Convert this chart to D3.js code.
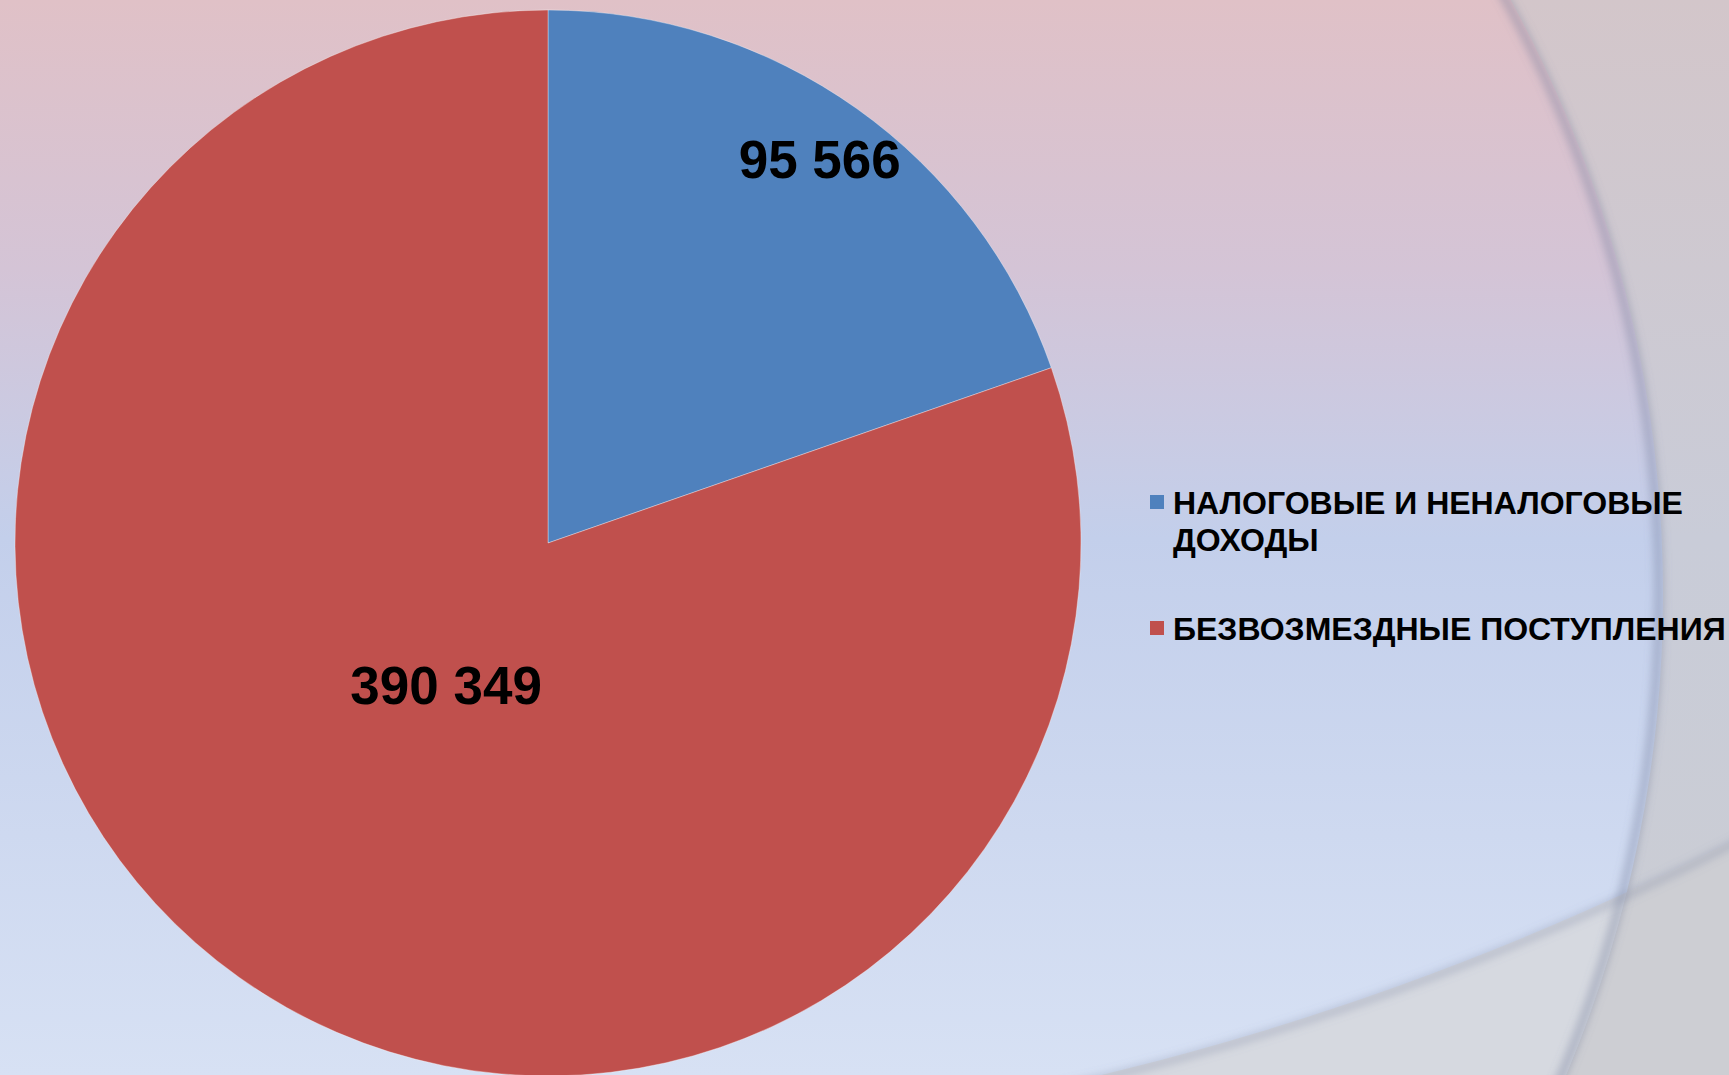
<!DOCTYPE html>
<html>
<head>
<meta charset="utf-8">
<script src="https://cdn.jsdelivr.net/npm/d3@7"></script>
<style>
  html, body { margin: 0; padding: 0; overflow: hidden; background: #d6d9e0; }
  svg { display: block; }
</style>
</head>
<body>
<svg id="chart" width="1729" height="1075"></svg>
<script>
// ---- data ----
const categories = ["НАЛОГОВЫЕ И НЕНАЛОГОВЫЕ ДОХОДЫ", "БЕЗВОЗМЕЗДНЫЕ ПОСТУПЛЕНИЯ"];
const legendLines = [["НАЛОГОВЫЕ И НЕНАЛОГОВЫЕ", "ДОХОДЫ"], ["БЕЗВОЗМЕЗДНЫЕ ПОСТУПЛЕНИЯ"]];
const values = [95566, 390349];
const colors = ["#4f81bd", "#c0504d"];
const labelRadiusFrac = [0.88, 0.33];

// ---- layout ----
const W = 1729, H = 1075;
const cx = 548, cy = 543, R = 533;
const svg = d3.select("#chart");
const defs = svg.append("defs");

// background gradients
const gIn = defs.append("linearGradient").attr("id", "gIn").attr("x1", 0).attr("y1", 0).attr("x2", 0).attr("y2", 1);
gIn.append("stop").attr("offset", "0").attr("stop-color", "#e0c1c7");
gIn.append("stop").attr("offset", "0.25").attr("stop-color", "#d4c4d6");
gIn.append("stop").attr("offset", "0.5").attr("stop-color", "#c3cfeb");
gIn.append("stop").attr("offset", "1").attr("stop-color", "#d7e1f4");
const gOut = defs.append("linearGradient").attr("id", "gOut").attr("x1", 0).attr("y1", 0).attr("x2", 0).attr("y2", 1);
gOut.append("stop").attr("offset", "0").attr("stop-color", "#d3c6ca");
gOut.append("stop").attr("offset", "0.5").attr("stop-color", "#c9ccd8");
gOut.append("stop").attr("offset", "1").attr("stop-color", "#cbcdd3");

const blur = defs.append("filter").attr("id", "blur").attr("x", "-10%").attr("y", "-10%").attr("width", "120%").attr("height", "120%");
blur.append("feGaussianBlur").attr("stdDeviation", 4);

// decorative circles
const c1 = {x: 425, y: 595, r: 1238};
const c2 = {x: 430, y: -1703, r: 2858};

defs.append("clipPath").attr("id", "inC1").append("circle").attr("cx", c1.x).attr("cy", c1.y).attr("r", c1.r);
defs.append("clipPath").attr("id", "outC1").append("path")
  .attr("clip-rule", "evenodd")
  .attr("d", `M0,0H${W}V${H}H0Z M${c1.x - c1.r},${c1.y} a${c1.r},${c1.r} 0 1,0 ${2*c1.r},0 a${c1.r},${c1.r} 0 1,0 ${-2*c1.r},0Z`);
const outC2 = `M-10,-10H${W+10}V${H+10}H-10Z M${c2.x - c2.r},${c2.y} a${c2.r},${c2.r} 0 1,0 ${2*c2.r},0 a${c2.r},${c2.r} 0 1,0 ${-2*c2.r},0Z`;

const bg = svg.append("g");
bg.append("rect").attr("width", W).attr("height", H).attr("fill", "url(#gIn)");
bg.append("rect").attr("width", W).attr("height", H).attr("fill", "url(#gOut)").attr("clip-path", "url(#outC1)");
// region below second curve
bg.append("path").attr("d", outC2).attr("fill-rule", "evenodd").attr("fill", "#d6d9e0").attr("clip-path", "url(#inC1)");
bg.append("path").attr("d", outC2).attr("fill-rule", "evenodd").attr("fill", "#cdced3").attr("clip-path", "url(#outC1)");
// soft edge shadows
bg.append("circle").attr("cx", c2.x).attr("cy", c2.y).attr("r", c2.r + 3)
  .attr("fill", "none").attr("stroke", "rgba(120,130,160,0.35)").attr("stroke-width", 7).attr("filter", "url(#blur)");
bg.append("circle").attr("cx", c1.x).attr("cy", c1.y).attr("r", c1.r - 4)
  .attr("fill", "none").attr("stroke", "rgba(110,120,150,0.4)").attr("stroke-width", 9).attr("filter", "url(#blur)");

// ---- pie ----
const pie = d3.pie().sort(null).value(d => d)(values);
const arc = d3.arc().innerRadius(0).outerRadius(R);
const g = svg.append("g").attr("transform", `translate(${cx},${cy})`);
g.selectAll("path.slice").data(pie).join("path")
  .attr("class", "slice")
  .attr("d", arc)
  .attr("fill", (d, i) => colors[i])
  .attr("stroke", "rgba(255,255,255,0.35)")
  .attr("stroke-width", 1);

const fmt = d3.formatLocale({decimal: ",", thousands: " ", grouping: [3], currency: ["", ""]}).format(",d");
g.selectAll("text.lbl").data(pie).join("text")
  .attr("class", "lbl")
  .attr("transform", (d, i) => {
    const a = (d.startAngle + d.endAngle) / 2;
    const r = R * labelRadiusFrac[i];
    return `translate(${r * Math.sin(a)},${-r * Math.cos(a)})`;
  })
  .attr("text-anchor", "middle")
  .attr("dy", "0.33em")
  .attr("font-family", "'Liberation Sans', Arial, sans-serif")
  .attr("font-weight", "bold")
  .attr("font-size", 53)
  .attr("fill", "#000")
  .text((d, i) => fmt(values[i]));

// ---- legend ----
const legendX = 1150, legendY = [495, 621], lineH = 36.5;
const lg = svg.append("g");
categories.forEach((c, i) => {
  const row = lg.append("g");
  row.append("rect").attr("x", legendX).attr("y", legendY[i]).attr("width", 14).attr("height", 14).attr("fill", colors[i]);
  const t = row.append("text")
    .attr("x", legendX + 23)
    .attr("y", legendY[i] + 19)
    .attr("font-family", "'Liberation Sans', Arial, sans-serif")
    .attr("font-weight", "bold")
    .attr("font-size", 32)
    .attr("fill", "#000");
  legendLines[i].forEach((ln, j) => {
    t.append("tspan").attr("x", legendX + 23).attr("dy", j === 0 ? 0 : lineH).text(ln);
  });
});
</script>
</body>
</html>
